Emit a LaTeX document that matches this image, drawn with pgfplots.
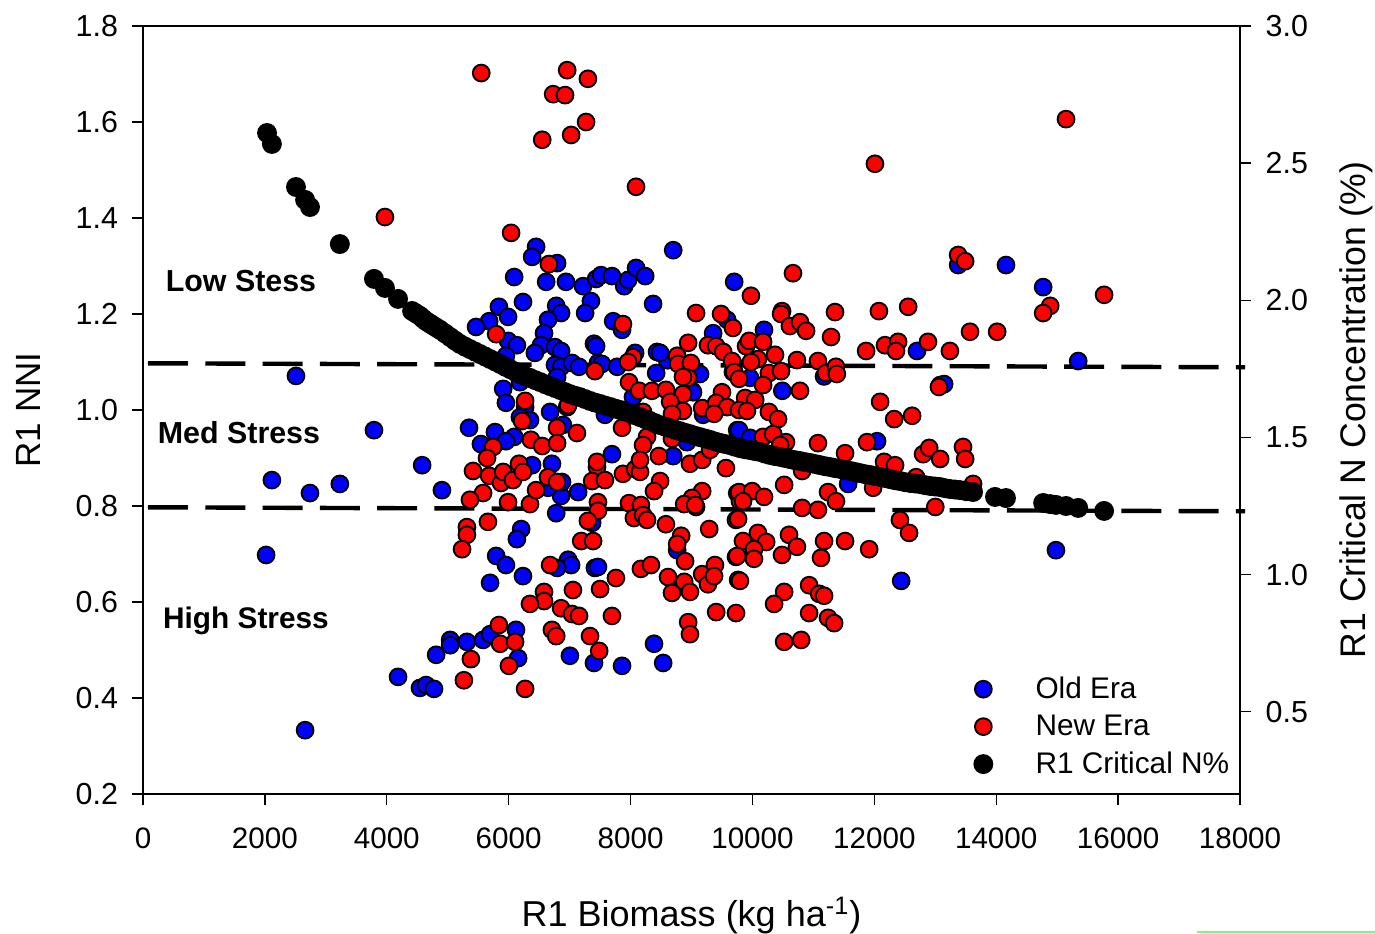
\documentclass[border=0pt]{standalone}
\usepackage{pgfplots}
\pgfplotsset{compat=1.18}
\usepackage{fontspec}
\setmainfont{Liberation Sans}
\pgfplotsset{
  base/.style={
    at={(0,0)},anchor=south west,scale only axis,width=548.5pt,height=384pt,
    xmin=0,xmax=18000,
    tick align=outside,tick style={black,line width=0.7pt},major tick length=5.5pt,
    axis line style={line width=0.9pt},
    /pgf/number format/assume math mode=true,
    tick label style={font=\fontsize{15.2}{17}\selectfont},
    clip=false,
  },
  dot/.style={only marks,mark=*,mark size=4.2pt,mark options={draw=black,line width=0.95pt,fill=#1}},
  bigdot/.style={only marks,mark=*,mark size=4.5pt,mark options={draw=black,line width=0.95pt,fill=black}},
}
\begin{document}
\begin{tikzpicture}
\path[use as bounding box] (-71.5pt,-69.5pt) rectangle (616pt,397pt);
\begin{axis}[base,
  ymin=0.2,ymax=1.8,axis y line*=left,axis x line*=bottom,
  xtick={0,2000,...,18000},ytick={0.2,0.4,...,1.8},
  scaled x ticks=false,
  xticklabel style={font=\fontsize{14.8}{17}\selectfont,/pgf/number format/fixed,/pgf/number format/precision=0,/pgf/number format/1000 sep={}},
  yticklabel style={/pgf/number format/fixed,/pgf/number format/fixed zerofill,/pgf/number format/precision=1},
  xticklabel shift=8pt,yticklabel shift=3.5pt,
  xlabel={R1 Biomass (kg ha\textsuperscript{-1})},
  xlabel style={at={(axis description cs:0.5,-0.1585)},anchor=center,font=\fontsize{18}{20}\selectfont},
  ylabel={R1 NNI},
  ylabel style={at={(axis description cs:-0.104,0.5)},anchor=center,font=\fontsize{17.5}{19}\selectfont},
]
\addplot[dot=blue] table {
6450 1.340
6385 1.319
6795 1.306
6090 1.277
6615 1.267
6940 1.267
7220 1.258
7435 1.273
7515 1.281
7695 1.279
7895 1.258
7960 1.271
8090 1.296
8240 1.279
8700 1.333
9700 1.267
6235 1.225
5840 1.215
5990 1.194
5680 1.185
5465 1.173
6780 1.217
6860 1.202
6645 1.188
6580 1.160
7350 1.227
7255 1.202
8370 1.221
7715 1.185
7860 1.167
5990 1.144
6135 1.135
6530 1.135
6430 1.119
6760 1.131
6860 1.123
7400 1.138
7435 1.133
5955 1.113
6760 1.094
6860 1.090
7040 1.098
7155 1.090
7465 1.098
7530 1.096
7780 1.090
8075 1.119
8435 1.121
8615 1.104
8420 1.077
9140 1.075
9010 1.040
8040 1.027
6795 1.069
6185 1.058
5910 1.044
5955 1.015
6680 0.996
6960 1.006
6270 1.006
6350 0.979
6185 0.985
6890 0.969
5350 0.963
5775 0.954
6090 0.944
5955 0.935
5545 0.929
7695 0.908
7580 0.990
9220 0.994
9355 1.160
9585 1.188
9750 0.958
8925 0.938
10190 1.167
10490 1.040
11175 1.070
12700 1.123
12045 0.935
11570 0.846
13080 1.052
13145 1.054
13375 1.302
14160 1.302
14770 1.256
15345 1.102
14980 0.708
12440 0.644
2510 1.071
3790 0.958
2115 0.854
2740 0.827
3230 0.846
2020 0.698
4580 0.885
4905 0.833
2660 0.333
4185 0.444
4545 0.421
4645 0.427
4775 0.419
4810 0.490
5040 0.521
5040 0.510
5315 0.517
5580 0.521
5695 0.533
6120 0.542
6155 0.483
6710 0.888
6385 0.885
6860 0.821
6645 0.838
6875 0.850
7140 0.829
6780 0.785
6205 0.752
6135 0.731
5795 0.696
5955 0.677
6235 0.654
5695 0.640
7370 0.765
6975 0.688
7025 0.677
6795 0.671
7415 0.671
7465 0.673
8765 0.708
7005 0.488
7400 0.473
7860 0.467
8385 0.513
8535 0.473
8700 0.904
9960 1.067
9025 1.037
9780 0.958
9960 0.942
8925 0.933
9190 0.990
8600 1.104
8485 1.119
};
\addplot[black,line width=2.2pt,dash pattern=on 20pt off 8.63pt] coordinates {(82,1.0973) (18083,1.0890)};
\addplot[black,line width=2.2pt,dash pattern=on 20pt off 8.63pt] coordinates {(82,0.7973) (18083,0.7890)};
\addplot[dot=red] table {
5550 1.702
6960 1.708
6730 1.658
6925 1.656
7300 1.690
7270 1.600
7025 1.573
6550 1.563
8090 1.465
3970 1.402
15145 1.606
12010 1.513
13375 1.323
13490 1.310
10665 1.285
15770 1.240
14885 1.217
14770 1.202
6040 1.369
6660 1.304
9075 1.202
9485 1.200
9680 1.171
7875 1.179
5795 1.158
8945 1.140
9270 1.135
9405 1.133
9520 1.121
8765 1.113
8780 1.096
8990 1.098
8040 1.110
7960 1.100
7415 1.081
8945 1.067
8860 1.069
9680 1.098
9680 1.079
7975 1.058
8140 1.040
8350 1.040
8580 1.042
8860 1.033
8650 1.017
9500 1.037
9175 1.004
9405 1.015
9585 1.006
9370 0.992
8860 0.998
8680 0.992
6270 1.019
6220 0.977
6975 1.010
6795 0.963
7120 0.952
7860 0.963
8270 0.944
8205 0.927
8680 0.940
6365 0.938
6550 0.925
6795 0.931
5745 0.923
8205 0.996
5645 0.900
5415 0.873
5680 0.863
5875 0.848
5910 0.871
6070 0.854
6170 0.888
6235 0.871
5580 0.827
5365 0.813
5990 0.808
6350 0.804
6450 0.833
6645 0.860
6795 0.850
7450 0.881
7450 0.892
7370 0.852
7580 0.854
7875 0.867
8075 0.877
8155 0.871
8155 0.896
8465 0.904
8975 0.888
9175 0.896
9305 0.917
9565 0.879
8485 0.852
8385 0.831
9175 0.831
9010 0.817
8880 0.804
9075 0.798
9750 0.827
9795 0.810
7465 0.808
7465 0.790
7300 0.769
7975 0.806
8170 0.802
8055 0.775
8205 0.781
8270 0.771
8580 0.762
8830 0.738
8765 0.721
9290 0.752
9730 0.771
8895 0.685
5315 0.756
5315 0.740
5235 0.710
5660 0.767
7190 0.727
7385 0.727
6680 0.677
8170 0.669
8335 0.677
8615 0.652
8880 0.642
8680 0.619
8975 0.621
9175 0.658
9270 0.637
9385 0.677
9370 0.654
9730 0.694
9765 0.646
7760 0.650
7500 0.627
7055 0.625
6580 0.621
6580 0.602
6350 0.596
6860 0.587
7040 0.575
7155 0.571
7695 0.571
6710 0.542
6780 0.529
7335 0.529
7485 0.498
5840 0.552
5860 0.513
6105 0.517
5380 0.481
6005 0.467
5265 0.437
6270 0.419
9405 0.579
9730 0.577
8945 0.558
8975 0.533
9975 1.238
10485 1.206
10470 1.200
10615 1.175
10780 1.183
10880 1.165
11355 1.204
12075 1.206
12555 1.215
11290 1.152
11865 1.123
12175 1.135
12390 1.142
12355 1.123
12880 1.142
13240 1.123
13570 1.163
14015 1.163
9895 1.133
9945 1.144
10175 1.142
10370 1.115
10090 1.106
9975 1.100
9665 1.102
9700 1.079
9780 1.065
10270 1.077
10470 1.081
10730 1.104
11075 1.102
11205 1.077
11370 1.090
11385 1.075
10175 1.052
10780 1.040
9880 1.025
10045 1.021
9780 1.000
9910 0.998
10270 0.996
10420 0.981
12095 1.017
12325 0.981
12620 0.988
13060 1.048
10175 0.944
10340 0.950
10550 0.933
10455 0.927
11075 0.931
11520 0.910
11880 0.933
12160 0.892
12340 0.885
12800 0.908
12900 0.921
13080 0.898
13455 0.923
13490 0.898
13620 0.846
12685 0.860
10520 0.844
10815 0.873
11980 0.838
11240 0.829
11370 0.810
9780 0.829
9995 0.831
10190 0.819
9845 0.810
9060 0.802
10815 0.796
11075 0.792
13000 0.798
12420 0.771
9765 0.773
10090 0.744
10600 0.740
11175 0.727
11520 0.727
12570 0.744
9845 0.727
10225 0.725
10025 0.710
9750 0.696
10025 0.690
10730 0.715
10485 0.698
11125 0.692
11915 0.710
9795 0.644
10520 0.621
10355 0.596
10930 0.635
11095 0.617
11175 0.613
10930 0.577
11240 0.567
11340 0.556
10520 0.517
10800 0.521
};
\node[font=\bfseries\fontsize{15.2}{17}\selectfont] at (axis cs:1608,1.269) {Low Stess};
\node[font=\bfseries\fontsize{15.2}{17}\selectfont] at (axis cs:1575,0.952) {Med Stress};
\node[font=\bfseries\fontsize{14.9}{17}\selectfont] at (axis cs:1690,0.561) {High Stress};
\end{axis}
\begin{axis}[base,
  ymin=0.2,ymax=3.0,axis y line*=right,axis x line*=top,
  xtick=\empty,ytick={0.5,1.0,...,3.0},
  yticklabel style={/pgf/number format/fixed,/pgf/number format/fixed zerofill,/pgf/number format/precision=1},
  yticklabel shift=3.8pt,
  ylabel={R1 Critical N Concentration (\%)},
  ylabel style={at={(axis description cs:1.1057,0.5)},anchor=center,rotate=0,font=\fontsize{17.8}{20}\selectfont},
  legend style={draw=none,fill=none,at={(rel axis cs:0.752,0.012)},anchor=south west,
    font=\fontsize{14.9}{17}\selectfont,row sep=2.7pt,/tikz/every odd column/.append style={column sep=19.6pt}},
  legend cell align=left,
]
\addlegendimage{dot=blue}\addlegendentry{Old Era}
\addlegendimage{dot=red}\addlegendentry{New Era}
\addplot[bigdot] table {
2035 2.610
2115 2.570
2510 2.413
2660 2.366
2740 2.340
3230 2.205
3790 2.078
3970 2.045
4185 2.005
4415 1.961
4480 1.952
4545 1.943
4595 1.933
4645 1.924
4695 1.917
4745 1.910
4810 1.901
4875 1.892
4958 1.879
5040 1.866
5120 1.853
5200 1.841
5283 1.831
5365 1.822
5448 1.813
5530 1.804
5613 1.795
5695 1.786
5778 1.777
5860 1.768
5943 1.758
6025 1.749
6105 1.740
6185 1.731
6268 1.724
6350 1.717
6433 1.709
6515 1.702
6598 1.694
6680 1.687
6763 1.680
6845 1.673
6925 1.665
7005 1.658
7088 1.652
7170 1.647
7253 1.640
7335 1.633
7418 1.627
7500 1.622
7583 1.616
7665 1.611
7748 1.605
7830 1.600
7910 1.594
7990 1.589
8073 1.581
8155 1.574
8238 1.567
8320 1.560
8403 1.552
8485 1.545
8568 1.539
8650 1.534
8730 1.528
8810 1.523
8893 1.517
8975 1.512
9058 1.506
9140 1.501
9223 1.496
9305 1.491
9388 1.485
9470 1.480
9550 1.476
9630 1.472
9713 1.466
9795 1.461
9878 1.457
9960 1.454
10043 1.450
10125 1.447
10208 1.441
10290 1.436
10373 1.432
10455 1.429
10535 1.425
10615 1.421
10698 1.417
10780 1.414
10863 1.410
10945 1.407
11028 1.403
11110 1.399
11193 1.395
11275 1.392
11358 1.388
11440 1.385
11520 1.381
11600 1.378
11683 1.374
11765 1.370
11848 1.366
11930 1.363
12013 1.359
12095 1.356
12178 1.352
12260 1.348
12340 1.344
12420 1.341
12503 1.337
12585 1.334
12668 1.332
12750 1.330
12833 1.326
12915 1.323
12998 1.321
13080 1.319
13160 1.315
13240 1.312
13323 1.310
13405 1.308
13510 1.304
13620 1.301
13980 1.283
14160 1.279
14770 1.261
14885 1.257
14980 1.254
15145 1.250
15345 1.243
15770 1.232
};
\addlegendentry{R1 Critical N\%}
\end{axis}
\draw[green!55!white,line width=0.6pt] (527pt,-69pt)--(616pt,-69pt);
\end{tikzpicture}
\end{document}
